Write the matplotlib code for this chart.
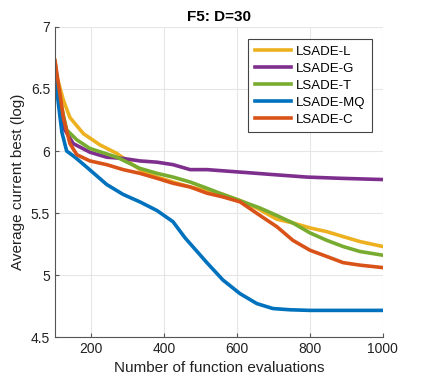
import matplotlib
matplotlib.use('Agg')
from matplotlib import pyplot as plt

x_l = [100, 105, 123, 141, 178, 223, 270, 333, 380, 424, 471, 517, 561, 608,
       654, 709, 753, 800, 846, 891, 937, 1000]
y_l = [6.72, 6.60, 6.41, 6.27, 6.14, 6.05, 5.98, 5.85, 5.79, 5.75, 5.71, 5.68,
       5.65, 5.60, 5.54, 5.45, 5.42, 5.38, 5.35, 5.31, 5.27, 5.23]

x_g = [100, 110, 123, 150, 196, 242, 287, 333, 380, 424, 471, 517, 608, 654,
       698, 791, 882, 1000]
y_g = [6.70, 6.45, 6.19, 6.06, 5.99, 5.95, 5.94, 5.92, 5.91, 5.89, 5.85, 5.85,
       5.83, 5.82, 5.81, 5.79, 5.78, 5.77]

x_t = [100, 114, 132, 160, 196, 270, 333, 380, 424, 471, 517, 561, 608, 663,
       709, 753, 800, 846, 891, 937, 1000]
y_t = [6.70, 6.41, 6.17, 6.09, 6.02, 5.95, 5.86, 5.82, 5.79, 5.75, 5.70, 5.65,
       5.60, 5.54, 5.48, 5.42, 5.34, 5.28, 5.23, 5.19, 5.16]

x_mq = [100, 109, 119, 132, 155, 187, 242, 287, 333, 380, 424, 457, 517, 561,
        608, 654, 698, 745, 800, 1000]
y_mq = [6.63, 6.39, 6.15, 6.00, 5.95, 5.87, 5.73, 5.65, 5.59, 5.52, 5.43, 5.30,
        5.10, 4.96, 4.85, 4.77, 4.73, 4.72, 4.715, 4.715]

x_c = [100, 109, 123, 141, 160, 196, 242, 287, 333, 380, 424, 471, 517, 561,
       608, 663, 709, 753, 800, 846, 891, 937, 1000]
y_c = [6.73, 6.55, 6.27, 6.06, 5.97, 5.92, 5.89, 5.85, 5.82, 5.78, 5.74, 5.71,
       5.66, 5.63, 5.59, 5.48, 5.39, 5.28, 5.20, 5.15, 5.10, 5.08, 5.06]

series = [('LSADE-L', x_l, y_l, '#EDB120'),
          ('LSADE-G', x_g, y_g, '#7E2F8E'),
          ('LSADE-T', x_t, y_t, '#77AC30'),
          ('LSADE-MQ', x_mq, y_mq, '#0072BD'),
          ('LSADE-C', x_c, y_c, '#D95319')]

plt.rcParams['font.family'] = ['Liberation Sans', 'DejaVu Sans']

fig = plt.figure(figsize=(4.23, 3.80), dpi=100)
ax = fig.add_axes([0.130, 0.113, 0.775, 0.816])

for name, xs, ys, col in series:
    ax.plot(xs, ys, color=col, lw=2.6, label=name)

ax.set_xlim(100, 1000)
ax.set_ylim(4.5, 7)
ax.set_xticks([200, 400, 600, 800, 1000])
ax.set_yticks([4.5, 5, 5.5, 6, 6.5, 7])
ax.set_yticklabels(['4.5', '5', '5.5', '6', '6.5', '7'])
ax.grid(True, color='#e6e6e6', lw=0.8)
ax.set_axisbelow(True)
for side in ['top', 'right']:
    ax.spines[side].set_visible(False)
for side in ['left', 'bottom']:
    ax.spines[side].set_color('#555555')
ax.tick_params(direction='in', length=3, colors='#555555', labelcolor='#222222',
               labelsize=10)

ax.set_title('F5: D=30', fontsize=11, fontweight='bold', pad=4)
ax.set_xlabel('Number of function evaluations', fontsize=11, color='#222222')
ax.set_ylabel('Average current best (log)', fontsize=11, color='#222222')

leg = ax.legend(loc='upper right', bbox_to_anchor=(0.967, 0.962), fontsize=9.5,
                handlelength=2.7, handletextpad=0.4, borderpad=0.5,
                labelspacing=0.36, borderaxespad=0,
                fancybox=False, framealpha=1)
leg.get_frame().set_edgecolor('#444444')
leg.get_frame().set_linewidth(0.8)

plt.savefig('out.png', dpi=100)
